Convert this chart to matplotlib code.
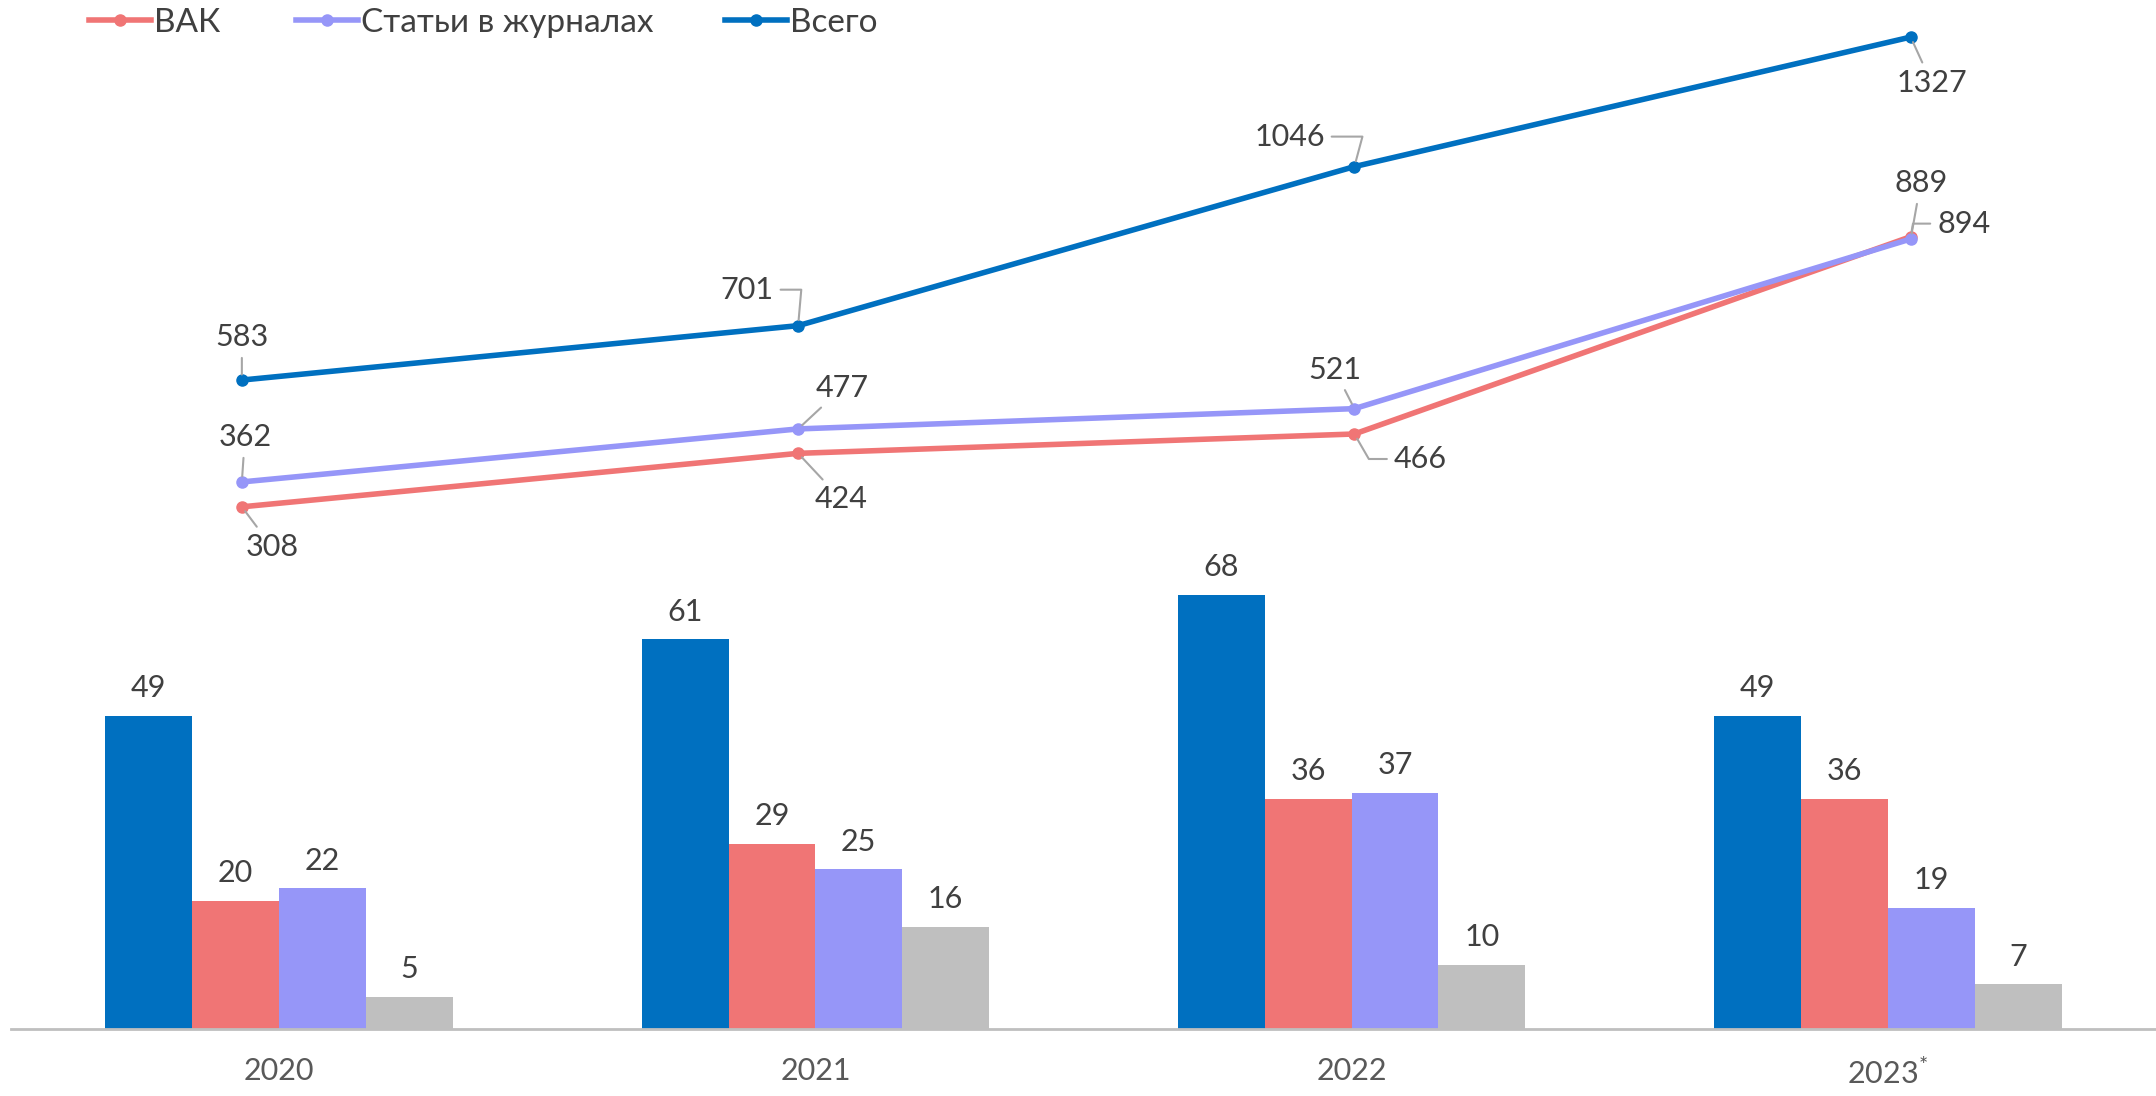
import matplotlib
matplotlib.use("Agg")
import matplotlib.pyplot as plt
import numpy as np
from matplotlib.lines import Line2D

plt.rcParams['font.family'] = ['Lato', 'DejaVu Sans']
plt.rcParams['mathtext.fontset'] = 'custom'
plt.rcParams['mathtext.rm'] = 'Lato'

# ---- data ----
years = ["2020", "2021", "2022", "2023"]
year_labels = ["2020", "2021", "2022", "2023$^{*}$"]

bar_total = [49, 61, 68, 49]
bar_vak = [20, 29, 36, 36]
bar_journals = [22, 25, 37, 19]
bar_other = [5, 16, 10, 7]

line_vak = [308, 424, 466, 894]
line_journals = [362, 477, 521, 889]
line_total = [583, 701, 1046, 1327]

legend_names = ["ВАК", "Статьи в журналах", "Всего"]

# ---- style ----
C_BLUE = "#0070C0"
C_RED = "#F07575"
C_PURPLE = "#9696F8"
C_GREY = "#BFBFBF"
C_TEXT = "#404040"
C_TICK = "#595959"
C_LEADER = "#A6A6A6"
FW = 'normal'

W, H = 2156, 1096
fig = plt.figure(figsize=(W / 100, H / 100), dpi=100)

# ---- bar axes ----
ax = fig.add_axes([11 / W, 67 / H, 2145 / W, 511 / H])
x = np.arange(len(years))
bw = 0.162
series = [bar_total, bar_vak, bar_journals, bar_other]
colors = [C_BLUE, C_RED, C_PURPLE, C_GREY]
for j, (vals, c) in enumerate(zip(series, colors)):
    xs = x + (j - 1.5) * bw
    ax.bar(xs, vals, width=bw, color=c, edgecolor='none')
    for xi, v in zip(xs, vals):
        ax.annotate(str(v), (xi, v), xytext=(0, 13.5), textcoords='offset points',
                    ha='center', va='baseline', fontsize=22, color=C_TEXT, fontweight=FW)
ax.set_xlim(-0.5, 3.5)
ax.set_ylim(0, 80)
ax.set_xticks(x)
ax.set_xticklabels(year_labels, fontsize=22, color=C_TICK, fontweight=FW)
ax.tick_params(axis='x', length=0, pad=20)
ax.set_yticks([])
for s in ['top', 'left', 'right']:
    ax.spines[s].set_visible(False)
ax.spines['bottom'].set_color(C_GREY)
ax.spines['bottom'].set_linewidth(2)
ax.patch.set_alpha(0)

# ---- line axes ----
lax = fig.add_axes([11 / W, 0, 2145 / W, 1])
lax.set_xlim(-0.415, 3.441)
lax.set_ylim(-970, 1407.4)
lax.axis('off')
lax.patch.set_alpha(0)

lines = [(line_vak, C_RED), (line_journals, C_PURPLE), (line_total, C_BLUE)]
for vals, c in lines:
    lax.plot(x, vals, color=c, lw=4, marker='o', markersize=8, clip_on=False,
             solid_capstyle='round')

# label offsets (points) and leader connection styles
offsets = {
    0: [(21.6, -28.8), (31, -33.1), (47.5, -18), (38.2, 9.4)],
    1: [(2.2, 32.4), (31.7, 29.5), (-14.4, 28.1), (7.2, 40.3)],
    2: [(0, 31), (-36.7, 25.9), (-46.8, 21.6), (15.1, -33.1)],
}
conns = {
    (0, 2): "angle,angleA=180,angleB=-60,rad=0",
    (0, 3): "angle,angleA=180,angleB=80,rad=0",
    (2, 1): "angle,angleA=0,angleB=85,rad=0",
    (2, 2): "angle,angleA=0,angleB=75,rad=0",
}
for k, (vals, c) in enumerate(lines):
    for i, v in enumerate(vals):
        dx, dy = offsets[k][i]
        cs = conns.get((k, i), "arc3")
        lax.annotate(str(v), (x[i], v), xytext=(dx, dy), textcoords='offset points',
                     ha='center', va='center', fontsize=22, color=C_TEXT, fontweight=FW,
                     arrowprops=dict(arrowstyle='-', color=C_LEADER, lw=1.5,
                                     shrinkA=3, shrinkB=4, connectionstyle=cs))

# ---- legend (one entry each, positioned like the reference) ----
leg_x = [89, 296, 725]
for name, c, lx in zip(legend_names, [C_RED, C_PURPLE, C_BLUE], leg_x):
    h = Line2D([], [], color=c, lw=4, marker='o', markersize=8)
    fig.legend([h], [name], loc='center left', bbox_to_anchor=(lx / W, 1 - 23 / H),
               frameon=False, fontsize=24, handlelength=1.85, handletextpad=0.1,
               labelcolor=C_TEXT, borderaxespad=0, borderpad=0)

fig.savefig("out.png", dpi=100, facecolor='white')
